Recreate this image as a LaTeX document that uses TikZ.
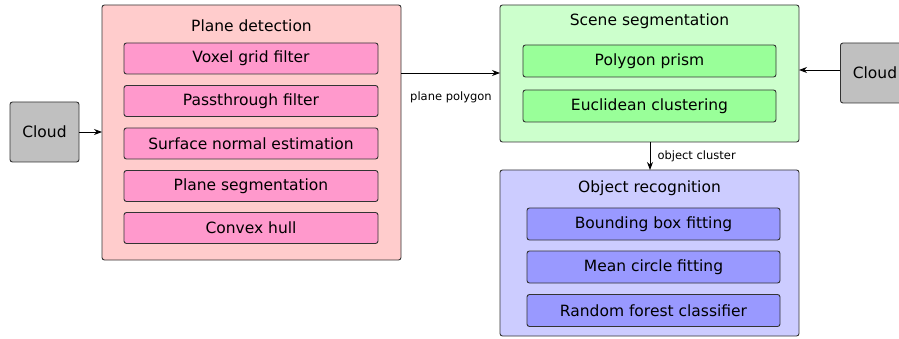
\documentclass[tikz,border=0pt]{standalone}
\usepackage{fontspec}
\setmainfont{DejaVu Sans}
\usetikzlibrary{arrows.meta}
\definecolor{pinkO}{HTML}{FFCCCC}
\definecolor{pinkI}{HTML}{FF99CC}
\definecolor{greenO}{HTML}{CCFFCC}
\definecolor{greenI}{HTML}{99FF99}
\definecolor{blueO}{HTML}{CCCCFF}
\definecolor{blueI}{HTML}{9999FF}
\definecolor{cloudG}{HTML}{C0C0C0}
\definecolor{edge}{HTML}{333333}
\begin{document}
\begin{tikzpicture}[x=1pt,y=-1pt,
  outer/.style={draw=edge,line width=0.9pt,rounded corners=2.5pt},
  inner/.style={draw=edge,line width=0.9pt,rounded corners=2.5pt,minimum width=254pt,minimum height=31pt,inner sep=0pt,font=\fontsize{15.5}{17}\selectfont},
  title/.style={font=\fontsize{15.5}{17}\selectfont},
  cloudbox/.style={draw=edge,line width=0.9pt,rounded corners=2.5pt,fill=cloudG,minimum width=69pt,minimum height=60pt,inner sep=0pt,font=\fontsize{15.5}{17}\selectfont},
  lbl/.style={font=\fontsize{11.5}{13}\selectfont},
  arr/.style={-{Stealth[length=8pt,width=6pt]},line width=0.9pt}]
\useasboundingbox (0,0) rectangle (899,339);
% outer containers
\draw[outer,fill=pinkO] (102,5) rectangle (401,260);
\draw[outer,fill=greenO] (500,5) rectangle (799,142);
\draw[outer,fill=blueO] (500,170) rectangle (799,336);
\coordinate (pdE) at (401,73);
\coordinate (pdW) at (102,132);
\coordinate (ssW) at (500,73);
\coordinate (ssWr) at (799,70);
\coordinate (ssS) at (650,142);
\coordinate (orN) at (650,170);
% titles
\node[title] (t1) at (251.5,26) {Plane detection};
\node[title] (t2) at (649.5,21) {Scene segmentation};
\node[title] (t3) at (649.5,188) {Object recognition};
% inner boxes
\node[inner,fill=pinkI] (v) at (251,58.5) {Voxel grid filter};
\node[inner,fill=pinkI] (p) at (251,101) {Passthrough filter};
\node[inner,fill=pinkI] (s) at (251,143.5) {Surface normal estimation};
\node[inner,fill=pinkI] (ps) at (251,186) {Plane segmentation};
\node[inner,fill=pinkI] (c) at (251,228) {Convex hull};
\node[inner,fill=greenI,minimum height=32pt,minimum width=253pt] (pp) at (649.5,61) {Polygon prism};
\node[inner,fill=greenI,minimum height=32pt,minimum width=253pt] (ec) at (649.5,106) {Euclidean clustering};
\node[inner,fill=blueI,minimum height=32pt,minimum width=253pt] (bb) at (653.5,224) {Bounding box fitting};
\node[inner,fill=blueI,minimum height=32pt,minimum width=253pt] (mc) at (653.5,267) {Mean circle fitting};
\node[inner,fill=blueI,minimum height=32pt,minimum width=253pt] (rf) at (653.5,310.5) {Random forest classifier};
% clouds
\node[cloudbox] (cl) at (44.5,132) {Cloud};
\node[cloudbox,anchor=west] (cr) at (840,73) {Cloud};
% connectors
\draw[arr] (cl.east) -- (pdW);
\draw[arr] (pdE) -- (ssW);
\draw[arr] (cr.west |- ssWr) -- (ssWr);
\draw[arr] (ssS) -- (orN);
\node[lbl] (lp) at (451,97) {plane polygon};
\node[lbl,anchor=west] (lo) at (654,156) {object cluster};
\end{tikzpicture}
\end{document}
